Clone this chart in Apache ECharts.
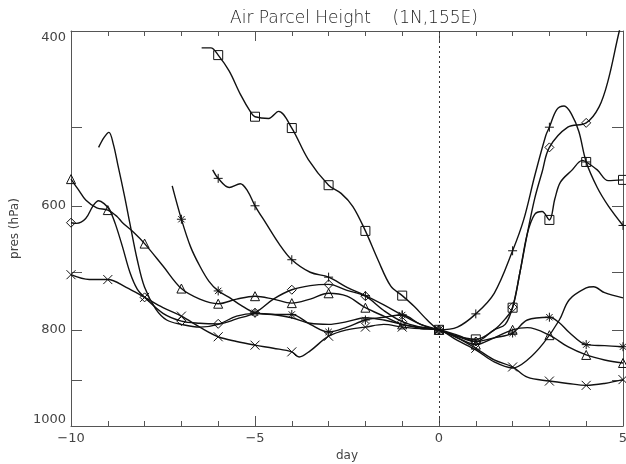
<!DOCTYPE html>
<html>
<head>
<meta charset="utf-8">
<script src="https://cdn.jsdelivr.net/npm/echarts@6.0.0/dist/echarts.min.js"></script>
<style>
html, body { margin: 0; padding: 0; background: #fff; }
#container { width: 626px; height: 464px; }
</style>
</head>
<body>
<div id="container"></div>
<script>
// parcel trajectories: [day, pressure hPa]; markers sit on whole days
var squareTrack = [[-6.45,416],[-6.2,416],[-6,423],[-5.7,439],[-5.4,463],[-5.1,484],[-5,488],[-4.63,490],[-4.36,482],[-4,501],
	[-3.55,539],[-3,572],[-2.66,583],[-2.34,601],[-2,636],[-1.66,680],[-1.31,723],[-1,739],[-0.67,758],[-0.32,782],[0,800],
	[0.5,812],[1,818],[1.5,800],[1.8,780],[2,760],[2.2,700],[2.4,640],[2.6,612],[2.8,608],[3,620],[3.15,590],[3.3,568],
	[3.6,553],[3.9,540],[4,542],[4.3,552],[4.6,566],[5,565]];
var plusTrack = [[-6.15,552],[-6,563],[-5.7,575],[-5.4,570],[-5.2,580],[-5,600],[-4.7,625],[-4.35,655],[-4,680],[-3.5,700],
	[-3,708],[-2.5,725],[-2,739],[-1.5,755],[-1,773],[-0.5,790],[0,800],
	[0.5,795],[1,771],[1.5,735],[2,666],[2.3,620],[2.6,560],[2.9,510],[3,500],[3.2,480],[3.4,476],[3.6,485],[3.8,505],
	[4,542],[4.3,575],[4.6,600],[5,628]];
var diamondTrack = [[-10,624],[-9.85,625],[-9.6,618],[-9.4,600],[-9.25,593],[-9.1,597],[-8.95,606],[-8.8,625],[-8.6,660],
	[-8.4,700],[-8.2,728],[-8,742],[-7.5,770],[-7,784],[-6.5,788],[-6,789],[-5.5,780],[-5,769],[-4.5,745],[-4,729],
	[-3.5,722],[-3,720],[-2.5,730],[-2,740],[-1.5,765],[-1,785],[-0.5,795],[0,800],
	[0.5,810],[1,822],[1.5,800],[1.8,790],[2,759],[2.2,700],[2.4,640],[2.6,590],[2.8,555],[3,524],[3.5,500],[4,495],
	[4.35,477],[4.6,448],[4.9,400],[5,390]];
var starTrack = [[-7.25,573],[-7,619],[-6.75,660],[-6.5,690],[-6.25,715],[-6,731],[-5.7,742],[-5.4,755],[-5,769],[-4.5,772],
	[-4,772],[-3.5,790],[-3,804],[-2.5,795],[-2,782],[-1.5,777],[-1,773],[-0.5,790],[0,800],
	[0.5,812],[1,822],[1.5,815],[2,806],[2.4,782],[3,777],[3.27,787],[3.54,805],[4,828],[4.5,830],[5,832]];
var triangleTrack = [[-10,564],[-9.8,578],[-9.6,592],[-9.3,603],[-9,606],[-8.75,615],[-8.6,624],[-8.3,638],[-8,655],
	[-7.5,690],[-7,727],[-6.5,745],[-6,753],[-5.5,745],[-5,740],[-4.5,745],[-4,752],[-3.5,745],[-3,735],[-2.5,740],
	[-2,760],[-1.5,775],[-1,790],[-0.5,795],[0,800],
	[0.5,815],[1,828],[1.5,815],[2,800],[2.4,796],[3,810],[3.5,832],[4,848],[4.5,858],[5,864]];
var dotTrack = [[-9.25,524],[-9.1,512],[-8.97,506],[-8.85,520],[-8.73,545],[-8.54,588],[-8.4,625],[-8.2,680],[-8,725],
	[-7.7,762],[-7.4,782],[-7,790],[-6.5,795],[-6,790],[-5.5,775],[-5,770],[-4.5,772],[-4,778],[-3.5,788],[-3,790],
	[-2.5,785],[-2,778],[-1.5,782],[-1,790],[-0.5,797],[0,800],
	[0.5,820],[1,838],[1.5,862],[2,874],[2.4,858],[2.84,825],[3.27,782],[3.54,746],[4,726],[4.2,724],[4.5,734],[5,743]];
var crossTrack = [[-10,704],[-9.5,712],[-9,712],[-8.5,725],[-8,742],[-7.5,760],[-7,775],[-6.5,795],[-6,813],[-5.5,822],
	[-5,829],[-4.5,835],[-4,842],[-3.8,852],[-3.5,840],[-3,812],[-2.5,800],[-2,795],[-1.5,790],[-1,795],[-0.5,798],[0,800],
	[0.5,815],[1,835],[1.5,858],[2,872],[2.4,893],[3,901],[3.5,906],[4,910],[4.5,906],[5,898]];

var presTicks = [400, 500, 600, 700, 800, 900, 1000];
var presLabels = [400, 600, 800, 1000];

var tracks = [
	{data: squareTrack, symbol: 'path://M0,0L10,0L10,10L0,10Z'},
	{data: plusTrack, symbol: 'path://M0,5L10,5M5,0L5,10'},
	{data: diamondTrack, symbol: 'path://M5,0L10,5L5,10L0,5Z'},
	{data: starTrack, symbol: 'path://M0,5L10,5M5,0L5,10M1.5,1.5L8.5,8.5M8.5,1.5L1.5,8.5'},
	{data: triangleTrack, symbol: 'path://M5,0L10,9L0,9Z'},
	{data: dotTrack, symbol: 'none'},
	{data: crossTrack, symbol: 'path://M0,0L10,10M10,0L0,10'}
];

var lg = function(v) { return Math.log10(v); };

var myChart = echarts.init(document.getElementById('container'));

function dayAxis(pos, withLabels) {
	return {
		type: 'value', position: pos, min: -10, max: 5, interval: 5,
		axisLine: {show: true, onZero: false, lineStyle: {color: '#555', width: 1}},
		axisTick: {show: true, inside: true, length: 10, lineStyle: {color: '#555'}},
		minorTick: {show: true, splitNumber: 5, length: 5, lineStyle: {color: '#555'}},
		axisLabel: withLabels ? {show: true, margin: 6, fontFamily: 'DejaVu Sans', fontSize: 13, color: '#444',
			formatter: function(v) { return v < 0 ? '\u2212' + (-v) : '' + v; }} : {show: false},
		splitLine: {show: false},
		name: withLabels ? 'day' : '', nameLocation: 'middle', nameGap: 24,
		nameTextStyle: {fontFamily: 'DejaVu Sans', fontSize: 12, color: '#444'}
	};
}

function presAxis(pos, withLabels) {
	return {
		type: 'value', position: pos, inverse: true, min: lg(400), max: lg(1000),
		axisLine: {show: true, onZero: false, lineStyle: {color: '#555', width: 1}},
		axisTick: {show: true, inside: true, length: 11, customValues: presTicks.map(lg), lineStyle: {color: '#555'}},
		axisLabel: withLabels ? {show: true, margin: 5, customValues: presLabels.map(lg), fontFamily: 'DejaVu Sans', fontSize: 13, color: '#444',
			verticalAlignMinLabel: 'top', verticalAlignMaxLabel: 'bottom',
			formatter: function(v) { return '' + Math.round(Math.pow(10, v)); }} : {show: false},
		splitLine: {show: false},
		name: withLabels ? 'pres (hPa)' : '', nameLocation: 'middle', nameGap: 50, nameRotate: 90,
		nameTextStyle: {fontFamily: 'DejaVu Sans', fontSize: 12, color: '#444'}
	};
}

var series = tracks.map(function(t, i) {
	var s = {
		type: 'line',
		xAxisIndex: 0, yAxisIndex: 0,
		smooth: 0.35,
		clip: true,
		data: t.data.map(function(p) { return [p[0], lg(p[1])]; }),
		symbol: function(val) {
			return Math.abs(val[0] - Math.round(val[0])) < 1e-6 ? t.symbol : 'none';
		},
		symbolSize: 9,
		itemStyle: {color: 'rgba(0,0,0,0)', borderColor: '#111', borderWidth: 1},
		lineStyle: {color: '#111', width: 1.4},
		emphasis: {disabled: true},
		z: 3
	};
	if (i == 0) {
		s.markLine = {
			silent: true, symbol: 'none', label: {show: false},
			lineStyle: {type: [2, 3], color: '#333', width: 1},
			data: [{xAxis: 0}]
		};
	}
	return s;
});

var option = {
	animation: false,
	backgroundColor: '#fff',
	title: {
		text: 'Air Parcel Height    (1N,155E)',
		left: 349, top: 5, textAlign: 'center',
		textStyle: {fontFamily: 'DejaVu Sans', fontSize: 17, fontWeight: 300, color: '#222'}
	},
	grid: {left: 71, right: 3, top: 31, bottom: 38, containLabel: false, outerBoundsMode: 'none'},
	xAxis: [dayAxis('bottom', true), dayAxis('top', false)],
	yAxis: [presAxis('left', true), presAxis('right', false)],
	series: series
};
myChart.setOption(option);
</script>
</body>
</html>
